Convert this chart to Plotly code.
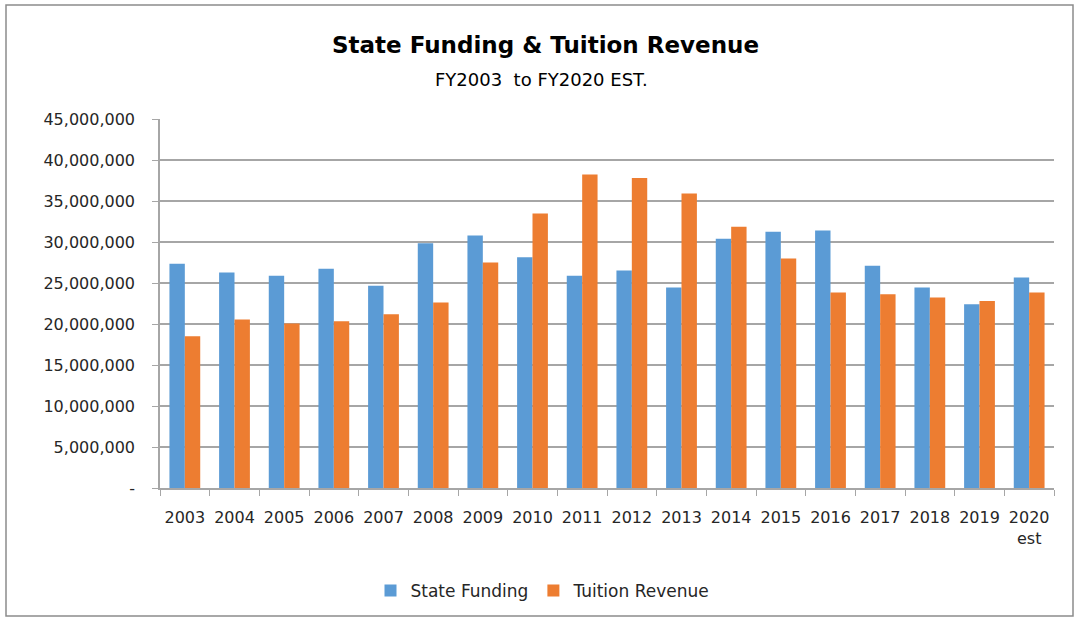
import plotly.graph_objects as go

# Fiscal years shown on the category axis
years = ["2003", "2004", "2005", "2006", "2007", "2008", "2009", "2010", "2011",
         "2012", "2013", "2014", "2015", "2016", "2017", "2018", "2019", "2020 est"]
year_labels = years[:-1] + ["2020<br>est"]

# Annual amounts in dollars
state_funding = [27340000, 26280000, 25870000, 26730000, 24650000, 29860000,
                 30800000, 28150000, 25870000, 26530000, 24450000, 30390000,
                 31240000, 31410000, 27100000, 24450000, 22420000, 25670000]
tuition_revenue = [18510000, 20550000, 20060000, 20340000, 21200000, 22620000,
                   27500000, 33480000, 38240000, 37800000, 35920000, 31860000,
                   27990000, 23840000, 23640000, 23230000, 22820000, 23840000]

# Value axis ticks (accounting style: zero shown as a dash)
y_ticks = [0, 5000000, 10000000, 15000000, 20000000, 25000000,
           30000000, 35000000, 40000000, 45000000]
y_tick_text = ["-", "5,000,000", "10,000,000", "15,000,000", "20,000,000",
               "25,000,000", "30,000,000", "35,000,000", "40,000,000", "45,000,000"]

FONT = "DejaVu Sans"
TEXT = "#262626"
GRID = "#a6a6a6"

fig = go.Figure()
fig.add_trace(go.Bar(x=years, y=state_funding, name="State Funding",
                     marker=dict(color="#5b9bd5", line=dict(width=0))))
fig.add_trace(go.Bar(x=years, y=tuition_revenue, name="Tuition Revenue",
                     marker=dict(color="#ed7d31", line=dict(width=0))))

L, R, T, B = 160, 26, 119, 133
W, H = 1080, 621
pw, ph = W - L - R, H - T - B


def px(x):
    return (x - L) / pw


def py(y):
    return (H - B - y) / ph


fig.update_layout(
    width=W, height=H,
    margin=dict(l=L, r=R, t=T, b=B, autoexpand=False),
    paper_bgcolor="white", plot_bgcolor="white",
    barmode="group", bargap=0.38, bargroupgap=0,
    font=dict(family=FONT, size=16, color=TEXT),
    showlegend=True,
    legend=dict(orientation="h", x=px(543), y=py(591), xanchor="center",
                yanchor="middle", font=dict(family=FONT, size=17, color=TEXT),
                itemwidth=30, tracegroupgap=0, traceorder="normal"),
    xaxis=dict(
        tickmode="array", tickvals=years, ticktext=year_labels, tickangle=0,
        tickson="boundaries", ticks="outside", ticklen=6, tickcolor=GRID,
        showline=True, linecolor=GRID, linewidth=1.5, showgrid=False,
        tickfont=dict(family=FONT, size=16, color=TEXT), ticklabelstandoff=14,
        fixedrange=True,
    ),
    yaxis=dict(
        range=[0, 45000000], tickmode="array", tickvals=y_ticks,
        ticktext=y_tick_text, ticks="outside", ticklen=6, tickcolor=GRID,
        showline=True, linecolor=GRID, linewidth=1.5,
        showgrid=True, gridcolor=GRID, gridwidth=1.5, zeroline=False,
        tickfont=dict(family=FONT, size=16, color=TEXT), ticklabelstandoff=14,
    ),
    annotations=[
        dict(text="<b>State Funding & Tuition Revenue</b>", xref="paper", yref="paper",
             x=px(545), y=py(45), xanchor="center", yanchor="middle", showarrow=False,
             font=dict(family=FONT, size=23, color="#000000")),
        dict(text="FY2003  to FY2020 EST.", xref="paper", yref="paper",
             x=px(541), y=py(79), xanchor="center", yanchor="middle", showarrow=False,
             font=dict(family=FONT, size=18, color="#000000")),
    ],
    shapes=[
        dict(type="rect", xref="paper", yref="paper",
             x0=px(6), x1=px(1073), y0=py(616), y1=py(5),
             line=dict(color="#8c8c8c", width=1.5), fillcolor="rgba(0,0,0,0)",
             layer="below"),
    ],
)

fig.write_html("out.html")
